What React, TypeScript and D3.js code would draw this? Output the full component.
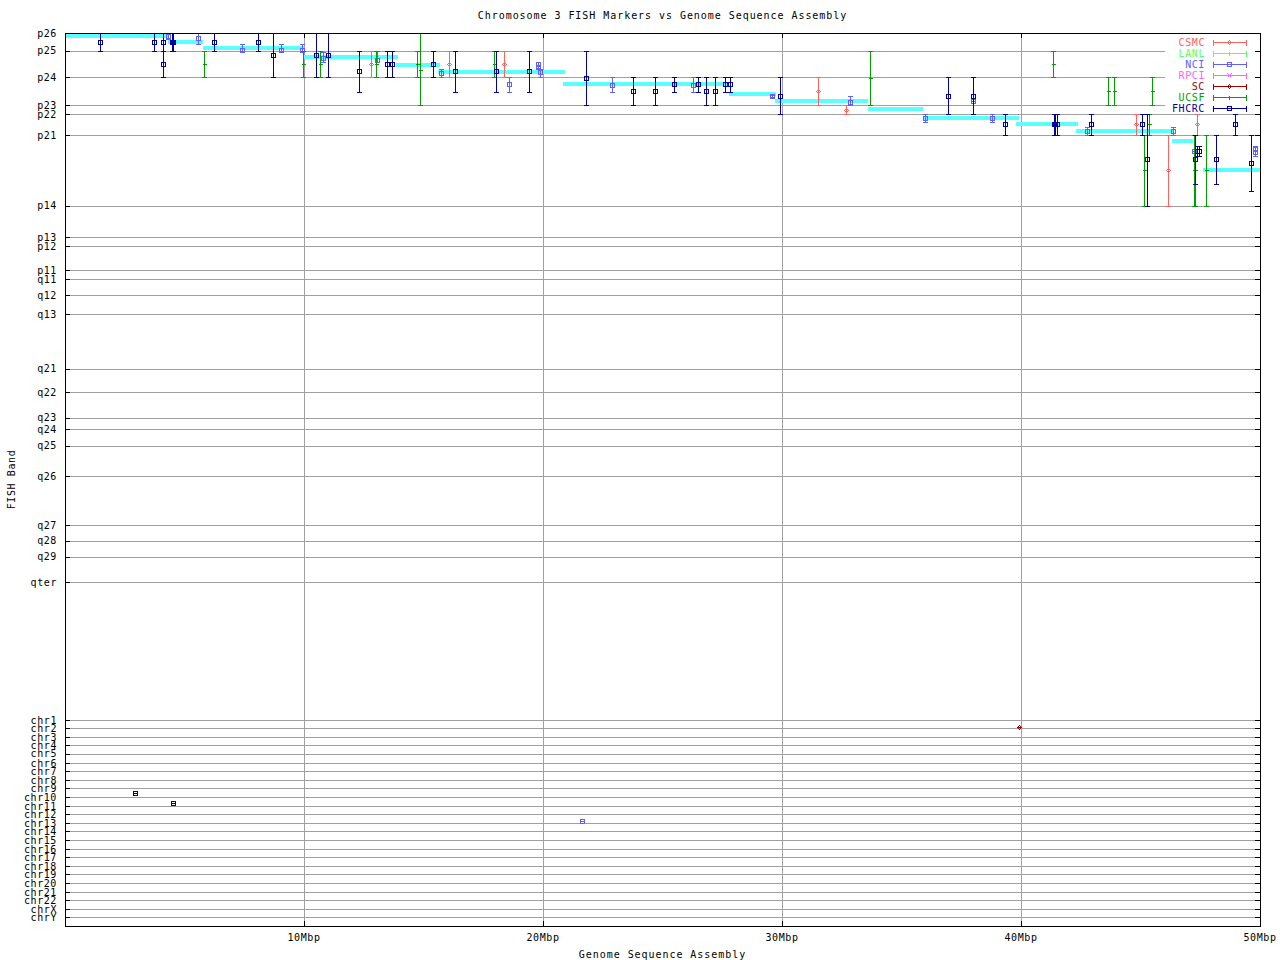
import React from 'react';
import * as d3 from 'd3';

const W = 1280;
const H = 960;

// Y axis: FISH band positions (p26 at top) and chromosome rows
const bandLabels = ['p26','p25','p24','p23','p22','p21','p14','p13','p12','p11','q11','q12','q13','q21','q22','q23','q24','q25','q26','q27','q28','q29','qter'];
const bandValues = [0, 6.55, 16.1, 26.3, 29.6, 37.3, 62.9, 74.4, 77.6, 86.4, 89.6, 95.5, 102.3, 122.2, 130.8, 140.0, 144.2, 150.3, 161.3, 179.2, 184.8, 190.7, 199.9];
const chrLabels = ['chr1','chr2','chr3','chr4','chr5','chr6','chr7','chr8','chr9','chr10','chr11','chr12','chr13','chr14','chr15','chr16','chr17','chr18','chr19','chr20','chr21','chr22','chrX','chrY'];
const chrValues = [250.1, 253.0, 256.3, 259.2, 262.4, 265.7, 268.6, 271.9, 274.9, 278.2, 281.4, 284.3, 287.6, 290.5, 293.8, 297.1, 300.0, 303.3, 306.2, 309.5, 312.7, 315.6, 318.9, 321.8];

// X axis (Mbp)
const xTickValues = [10, 20, 30, 40, 50];
const xTickLabels = ['10Mbp', '20Mbp', '30Mbp', '40Mbp', '50Mbp'];

// Sequence assembly band segments: [startMb, endMb, band]
const assemblySegments: [number, number, number][] = [
  [0, 4.31, 1.1],
  [4.31, 5.77, 3.3],
  [5.77, 10.0, 5.6],
  [10.0, 13.95, 8.7],
  [13.85, 15.7, 11.5],
  [15.6, 20.9, 14.1],
  [20.85, 27.8, 18.6],
  [27.8, 29.75, 22.2],
  [29.7, 33.6, 24.7],
  [33.6, 35.9, 27.8],
  [35.9, 39.9, 30.8],
  [39.8, 42.4, 33.1],
  [42.3, 46.4, 35.6],
  [46.3, 47.2, 39.3],
  [47.6, 50.1, 49.9],
];

// FISH markers: [Mb, band, bandLow, bandHigh]
type Pt = [number, number, number, number];
const csmcData: Pt[] = [
  [12.80, 11.4, 6.55, 16.1],
  [16.08, 11.4, 6.55, 16.1],
  [18.38, 11.4, 6.55, 16.1],
  [31.52, 21.2, 16.1, 26.3],
  [32.69, 27.9, 26.3, 29.6],
  [44.82, 33.2, 29.6, 37.3],
  [46.16, 50.0, 37.3, 62.9],
  [47.38, 33.2, 29.6, 37.3],
];
const lanlData: Pt[] = [];
const nciData: Pt[] = [
  [4.29, 1.1, 0, 2.3],
  [5.58, 1.8, 0, 4.0],
  [7.42, 6.3, 4.0, 6.7],
  [9.05, 6.3, 4.0, 6.7],
  [9.93, 6.3, 4.0, 6.7],
  [10.78, 9.1, 6.9, 10.6],
  [13.04, 9.7, 6.7, 10.7],
  [15.74, 14.6, 13.0, 16.1],
  [18.59, 18.7, 16.1, 21.5],
  [19.80, 11.3, 10.6, 12.7],
  [19.80, 12.3, 10.6, 12.7],
  [19.89, 14.3, 13.0, 16.1],
  [22.90, 18.8, 16.1, 21.5],
  [26.29, 18.8, 16.1, 21.5],
  [29.59, 23.0, 22.7, 23.3],
  [32.86, 25.1, 23.0, 26.3],
  [36.00, 31.0, 29.6, 32.5],
  [38.01, 24.7, 24.7, 24.7],
  [38.80, 31.0, 29.6, 32.5],
  [42.75, 35.8, 34.3, 37.3],
  [46.37, 35.8, 34.3, 37.3],
  [47.22, 43.1, 43.1, 43.1],
  [49.80, 42.1, 41.3, 44.6],
  [49.80, 43.3, 41.3, 44.6],
  [21.63, 286.7, 286.7, 286.7],
];
const rpciData: Pt[] = [];
const scData: Pt[] = [
  [39.92, 252.6, 252.6, 252.6],
];
const ucsfData: Pt[] = [
  [5.83, 11.4, 6.55, 16.1],
  [9.97, 11.4, 6.55, 16.1],
  [10.66, 11.4, 6.55, 16.1],
  [13.00, 11.4, 6.55, 16.1],
  [14.73, 11.4, 6.55, 16.1],
  [14.87, 13.4, 0, 26.3],
  [17.96, 11.4, 6.55, 16.1],
  [33.69, 16.5, 6.55, 26.3],
  [41.35, 11.4, 6.55, 16.1],
  [43.63, 21.2, 16.1, 26.3],
  [43.88, 21.2, 16.1, 26.3],
  [45.16, 50.0, 37.3, 62.9],
  [45.37, 33.2, 29.6, 37.3],
  [45.49, 21.2, 16.1, 26.3],
  [47.22, 50.0, 37.3, 62.9],
  [47.26, 50.0, 37.3, 62.9],
  [47.74, 50.0, 37.3, 62.9],
];
const fhcrcData: Pt[] = [
  [1.48, 3.4, 0, 6.55],
  [3.74, 3.4, 0, 6.55],
  [4.11, 3.4, 0, 6.55],
  [4.11, 11.4, 0, 16.1],
  [4.46, 3.4, 0, 6.55],
  [4.52, 3.4, 0, 6.55],
  [6.25, 3.4, 0, 6.55],
  [8.09, 3.4, 0, 6.55],
  [8.72, 8.1, 0, 16.1],
  [10.51, 8.1, 0, 16.1],
  [11.02, 8.1, 0, 16.1],
  [12.31, 13.9, 6.55, 21.5],
  [13.47, 11.4, 6.55, 16.1],
  [13.67, 11.4, 6.55, 16.1],
  [15.41, 11.4, 6.55, 16.1],
  [16.33, 13.9, 6.55, 21.5],
  [18.05, 13.9, 6.55, 21.5],
  [19.41, 13.9, 6.55, 21.5],
  [21.81, 16.5, 6.55, 26.3],
  [23.78, 21.2, 16.1, 26.3],
  [24.68, 21.2, 16.1, 26.3],
  [25.49, 18.7, 16.1, 21.5],
  [26.50, 18.7, 16.1, 21.5],
  [26.83, 21.2, 16.1, 26.3],
  [27.21, 21.2, 16.1, 26.3],
  [27.63, 18.7, 16.1, 21.5],
  [27.84, 18.7, 16.1, 21.5],
  [29.93, 23.0, 16.1, 29.6],
  [36.96, 23.0, 16.1, 29.6],
  [38.01, 23.0, 16.1, 29.6],
  [39.34, 33.2, 29.6, 37.3],
  [41.38, 33.2, 29.6, 37.3],
  [41.42, 33.2, 29.6, 37.3],
  [41.52, 33.2, 29.6, 37.3],
  [42.94, 33.2, 29.6, 37.3],
  [45.08, 33.2, 29.6, 37.3],
  [45.28, 46.0, 29.6, 62.9],
  [47.28, 46.0, 37.3, 55.1],
  [47.38, 43.1, 41.3, 44.6],
  [47.45, 43.1, 41.3, 44.6],
  [48.17, 46.0, 37.3, 55.1],
  [48.97, 33.2, 29.6, 37.3],
  [49.64, 47.4, 37.3, 57.5],
  [2.94, 276.7, 276.7, 276.7],
  [4.53, 280.3, 280.3, 280.3],
];

const seriesNames = ['CSMC', 'LANL', 'NCI', 'RPCI', 'SC', 'UCSF', 'FHCRC'];
const seriesColors = ['#ff6060', '#60ff60', '#6060ff', '#ff60ff', '#a00000', '#00a000', '#0000a0'];
const seriesSymbols = ['diamond', 'plus', 'square', 'cross', 'diamond', 'plus', 'square'];
const seriesData = [csmcData, lanlData, nciData, rpciData, scData, ucsfData, fhcrcData];

const FONT = 'DejaVu Sans Mono, monospace';
const FS = 10;
const LS = 0.6;

const x = d3.scaleLinear().domain([0, 50]).range([65, 1260]);
const y = d3.scaleLinear().domain([0, 325]).range([33, 926]);

const px = (v: number) => Math.round(v) + 0.5;

function Symbol({ kind, cx, cy, color }: { kind: string; cx: number; cy: number; color: string }) {
  const s = 2;
  if (kind === 'square') {
    return <rect x={cx - s} y={cy - s} width={2 * s} height={2 * s} fill="none" stroke={color} strokeWidth={1} />;
  }
  if (kind === 'diamond') {
    return <path d={`M${cx},${cy - s}L${cx + s},${cy}L${cx},${cy + s}L${cx - s},${cy}Z`} fill="none" stroke={color} strokeWidth={1} />;
  }
  if (kind === 'plus') {
    return <path d={`M${cx - s},${cy}H${cx + s}M${cx},${cy - s}V${cy + s}`} fill="none" stroke={color} strokeWidth={1} />;
  }
  return <path d={`M${cx - s},${cy - s}L${cx + s},${cy + s}M${cx - s},${cy + s}L${cx + s},${cy - s}`} fill="none" stroke={color} strokeWidth={1} />;
}

export default function App() {
  const [x0, x1] = x.range();
  const [y0, y1] = y.range();
  const allY = [...bandValues, ...chrValues];
  const allLabels = [...bandLabels, ...chrLabels];
  const legendLeft = 1165;
  const legendBottom = 113;

  return (
    <svg width={W} height={H} style={{ position: 'absolute', left: 0, top: 0, background: '#fff' }} xmlns="http://www.w3.org/2000/svg">
      <rect x={0} y={0} width={W} height={H} fill="#fff" />
      {/* grid */}
      <g stroke="#a0a0a0" strokeWidth={1} shapeRendering="crispEdges">
        {allY.map((v, i) => {
          const yy = px(y(v));
          const end = yy < legendBottom ? legendLeft : x1;
          return <line key={'gy' + i} x1={x0} x2={end} y1={yy} y2={yy} />;
        })}
        {xTickValues.filter(v => v < 50).map((v, i) => (
          <line key={'gx' + i} x1={px(x(v))} x2={px(x(v))} y1={y0} y2={y1} />
        ))}
      </g>
      {/* assembly segments */}
      <g stroke="#5affff" strokeWidth={4} shapeRendering="crispEdges">
        {assemblySegments.map((s, i) => (
          <line key={'seg' + i} x1={x(s[0])} x2={Math.min(x(s[1]), x1)} y1={y(s[2])} y2={y(s[2])} />
        ))}
      </g>
      {/* markers */}
      {seriesData.map((data, si) => (
        <g key={'s' + si} shapeRendering="crispEdges">
          {data.map((d, i) => {
            const cx = px(x(d[0]));
            const cy = px(y(d[1]));
            const lo = px(y(d[2]));
            const hi = px(y(d[3]));
            const c = seriesColors[si];
            return (
              <g key={i}>
                <line x1={cx} x2={cx} y1={lo} y2={hi} stroke={c} strokeWidth={1} />
                <line x1={cx - 2.5} x2={cx + 2.5} y1={lo} y2={lo} stroke={c} strokeWidth={1} />
                <line x1={cx - 2.5} x2={cx + 2.5} y1={hi} y2={hi} stroke={c} strokeWidth={1} />
                <Symbol kind={seriesSymbols[si]} cx={cx} cy={cy} color={c} />
              </g>
            );
          })}
        </g>
      ))}
      {/* border and ticks */}
      <g stroke="#000" strokeWidth={1} shapeRendering="crispEdges" fill="none">
        <rect x={x0 + 0.5} y={y0 + 0.5} width={x1 - x0} height={y1 - y0} />
        {allY.map((v, i) => {
          const yy = px(y(v));
          return (
            <g key={'ty' + i}>
              <line x1={x0} x2={x0 + 5} y1={yy} y2={yy} />
              <line x1={x1 - 5} x2={x1} y1={yy} y2={yy} />
            </g>
          );
        })}
        {xTickValues.map((v, i) => (
          <g key={'tx' + i}>
            <line x1={px(x(v))} x2={px(x(v))} y1={y0} y2={y0 + 5} />
            <line x1={px(x(v))} x2={px(x(v))} y1={y1 - 5} y2={y1} />
          </g>
        ))}
      </g>
      {/* y tick labels */}
      <g fontFamily={FONT} fontSize={FS} letterSpacing={LS} fill="#000" textAnchor="end">
        {allLabels.map((t, i) => (
          <text key={'yl' + i} x={x0 - 8} y={y(allY[i])} dy="0.35em">{t}</text>
        ))}
      </g>
      {/* x tick labels */}
      <g fontFamily={FONT} fontSize={FS} letterSpacing={LS} fill="#000" textAnchor="middle">
        {xTickLabels.map((t, i) => (
          <text key={'xl' + i} x={x(xTickValues[i])} y={y1 + 11} dy="0.35em">{t}</text>
        ))}
      </g>
      {/* titles */}
      <text x={(x0 + x1) / 2} y={15} dy="0.35em" fontFamily={FONT} fontSize={FS} textAnchor="middle" letterSpacing={0.95}>Chromosome 3 FISH Markers vs Genome Sequence Assembly</text>
      <text x={(x0 + x1) / 2} y={954} dy="0.35em" fontFamily={FONT} fontSize={FS} textAnchor="middle" letterSpacing={0.95}>Genome Sequence Assembly</text>
      <text transform={`translate(11,${(y0 + y1) / 2}) rotate(-90)`} dy="0.35em" fontFamily={FONT} fontSize={FS} letterSpacing={LS} textAnchor="middle">FISH Band</text>
      {/* legend */}
      <g fontFamily={FONT} fontSize={FS} letterSpacing={LS} shapeRendering="crispEdges">
        {seriesNames.map((n, i) => {
          const ly = px(42 + i * 11);
          const c = seriesColors[i];
          return (
            <g key={'lg' + i}>
              <text x={1205} y={ly} dy="0.35em" textAnchor="end" fill={c}>{n}</text>
              <line x1={1213} x2={1247} y1={ly} y2={ly} stroke={c} strokeWidth={1} />
              <line x1={1213.5} x2={1213.5} y1={ly - 3} y2={ly + 3} stroke={c} strokeWidth={1} />
              <line x1={1246.5} x2={1246.5} y1={ly - 3} y2={ly + 3} stroke={c} strokeWidth={1} />
              <Symbol kind={seriesSymbols[i]} cx={1229.5} cy={ly} color={c} />
            </g>
          );
        })}
      </g>
    </svg>
  );
}
